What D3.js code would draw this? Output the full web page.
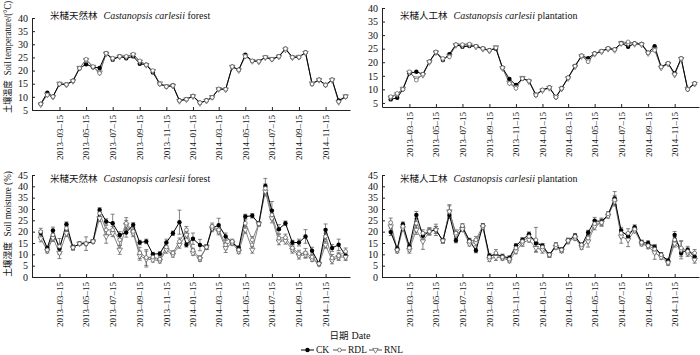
<!DOCTYPE html>
<html>
<head>
<meta charset="utf-8">
<script src="https://cdn.jsdelivr.net/npm/d3@7"></script>
<style>
  body { margin: 0; background: #fff; }
  text { font-family: "Liberation Serif", "Times New Roman", serif; fill: #111; }
</style>
</head>
<body>
<div id="chart"></div>
<script>
// sampling dates (15th and end of month)
const dates = ["2013-01-31","2013-02-15","2013-02-28","2013-03-15","2013-03-31","2013-04-15","2013-04-30","2013-05-15",
  "2013-05-31","2013-06-15","2013-06-30","2013-07-15","2013-07-31","2013-08-15","2013-08-31","2013-09-15","2013-09-30",
  "2013-10-15","2013-10-31","2013-11-15","2013-11-30","2013-12-15","2013-12-31","2014-01-15","2014-01-31","2014-02-15",
  "2014-02-28","2014-03-15","2014-03-31","2014-04-15","2014-04-30","2014-05-15","2014-05-31","2014-06-15","2014-06-30",
  "2014-07-15","2014-07-31","2014-08-15","2014-08-31","2014-09-15","2014-09-30","2014-10-15","2014-10-31","2014-11-15",
  "2014-11-30","2014-12-15","2014-12-31"];
const tickDates = ["2013-03-15","2013-05-15","2013-07-15","2013-09-15","2013-11-15","2014-01-15",
  "2014-03-15","2014-05-15","2014-07-15","2014-09-15","2014-11-15"];
const tempTicks = [5, 10, 15, 20, 25, 30, 35, 40];
const moistTicks = [0, 5, 10, 15, 20, 25, 30, 35, 40, 45];
const seriesNames = ["CK", "RDL", "RNL"];

// soil temperature, natural forest
const tempForestCK = [7.3,11.6,10.1,14.9,14.7,16.1,20.9,22.4,21.3,21.0,26.6,24.1,25.4,24.7,25.4,22.6,22.2,19.3,14.9,13.9,14.3,8.6,9.1,10.3,7.8,8.6,9.8,13.0,12.9,21.5,20.3,26.0,23.7,23.5,25.1,24.3,25.4,28.3,25.1,25.1,26.9,14.9,16.5,14.5,16.5,8.6,10.1];
const tempForestRDL = [7.3,10.7,10.1,14.9,14.7,16.1,20.9,24.3,21.5,19.0,26.6,24.7,25.4,25.4,26.2,23.7,22.2,20.0,14.9,13.9,14.3,8.6,9.1,10.3,7.8,8.6,9.8,13.0,12.9,21.5,20.3,25.4,23.7,23.5,25.1,24.3,25.4,28.3,25.1,25.1,26.9,14.9,16.5,14.5,16.5,8.2,10.1];
const tempForestRNL = [7.1,10.9,10.0,15.0,14.6,16.0,21.0,24.0,21.4,19.3,26.4,24.5,25.3,25.2,26.0,23.4,22.1,19.8,15.1,14.0,14.2,8.4,9.0,10.2,7.6,8.5,9.9,12.9,12.8,21.4,20.1,25.6,23.6,23.4,25.0,24.4,25.3,28.0,25.0,25.2,26.7,15.1,16.4,14.6,16.4,8.0,10.2];

// soil temperature, plantation
const tempPlantCK = [6.3,6.9,10.0,15.9,16.5,15.6,20.2,23.8,20.8,23.0,26.5,25.7,26.0,25.9,25.1,24.4,25.0,18.0,13.8,11.6,14.0,13.1,7.9,9.8,10.7,7.1,10.4,14.3,18.6,22.4,21.5,23.2,24.1,25.1,24.7,27.1,25.7,26.9,26.7,23.5,25.9,18.3,19.6,15.9,21.4,10.0,12.2];
const tempPlantRDL = [7.3,8.5,10.0,16.5,13.4,15.6,20.2,23.8,21.4,22.0,26.5,26.5,26.7,25.9,25.1,24.4,25.3,18.0,12.2,10.4,14.0,13.1,7.9,9.8,10.7,7.1,10.4,14.3,18.6,22.4,20.2,23.2,24.1,25.1,24.7,26.9,27.5,26.9,26.7,23.5,24.4,18.3,19.6,15.6,21.4,10.0,12.2];
const tempPlantRNL = [7.0,8.2,10.2,16.2,14.0,15.3,20.0,23.6,21.2,22.3,26.3,26.2,26.4,25.7,24.9,24.2,25.5,17.8,12.5,10.8,14.2,12.9,8.1,9.6,10.5,7.3,10.2,14.1,18.4,22.2,20.6,23.0,23.9,24.9,24.5,27.0,26.8,26.7,26.5,23.3,24.8,18.0,19.4,15.4,21.2,10.2,12.0];

// soil moisture, natural forest
const moistForestCK = [19.5,12.8,20.5,12.5,23.3,13.0,14.7,14.7,15.7,29.6,24.5,23.7,18.5,19.6,23.0,15.2,15.7,10.1,10.3,15.2,19.3,24.2,14.2,16.9,14.1,13.2,21.5,22.9,17.9,15.2,12.8,26.7,27.0,23.5,40.2,29.3,21.1,23.7,15.2,15.2,17.9,11.6,5.9,20.8,12.8,14.2,9.4];
const moistForestRDL = [20.0,12.0,18.6,13.5,21.5,13.0,14.7,14.7,15.7,28.1,20.8,20.8,16.4,23.7,20.1,10.6,8.6,8.8,7.9,13.2,10.6,15.7,20.8,11.7,8.4,13.2,22.3,20.8,14.2,15.7,12.0,23.7,16.4,23.5,39.1,27.4,17.2,17.4,12.8,10.3,10.6,8.8,5.9,17.9,8.4,9.4,11.3];
const moistForestRNL = [17.0,11.6,17.2,10.6,19.3,13.0,14.7,14.7,15.7,25.9,17.9,19.3,12.0,23.0,19.3,9.4,7.9,7.6,7.2,12.0,9.8,14.2,18.6,10.6,7.9,13.2,21.5,20.1,12.8,15.0,11.3,20.8,12.0,23.5,37.7,25.9,15.7,16.0,12.0,9.4,9.8,7.9,5.7,14.2,7.3,8.8,8.8];
const moistForestErrCK = [1.0,0.8,1.5,2.0,1.0,1.0,0.8,3.0,0.8,1.0,1.2,4.0,1.5,2.0,1.0,1.0,1.0,0.8,0.8,1.5,1.0,5.3,1.0,2.5,2.5,1.0,1.0,3.0,1.5,1.0,1.0,1.0,1.0,0.8,3.3,4.0,2.0,1.0,1.0,1.5,3.0,1.5,0.8,2.6,1.5,2.5,1.5];
const moistForestErrRDL = [1.5,1.0,2.0,3.5,1.5,1.0,0,0,0,1.5,2.0,1.5,2.5,2.5,1.5,2.5,3.5,1.0,1.0,1.5,1.0,1.5,1.5,1.0,1.0,1.0,1.5,1.5,2.0,1.0,1.0,1.5,1.5,1.0,2.0,2.0,1.5,1.5,1.5,1.5,2.0,1.0,0.8,1.5,1.5,1.5,1.5];
const moistForestErrRNL = [1.5,1.0,1.5,2.5,1.5,1.0,0,0,0,1.5,3.0,1.5,2.0,2.0,1.5,2.0,3.5,1.0,1.0,1.5,1.0,1.5,1.5,1.0,1.0,1.0,1.5,1.5,2.0,1.0,1.0,1.5,1.5,1.0,2.0,2.0,1.5,1.5,1.5,1.5,1.5,1.0,0.8,1.5,1.5,1.5,1.5];

// soil moisture, plantation
const moistPlantCK = [19.8,12.5,23.3,13.5,27.4,18.2,20.1,20.8,16.0,27.4,16.1,22.0,16.1,11.7,22.6,9.4,9.8,9.1,8.4,13.8,16.4,18.9,15.0,13.8,9.8,13.8,12.0,16.1,18.2,13.8,19.6,24.8,24.5,27.4,34.7,20.4,17.9,22.0,15.2,15.0,13.2,9.8,7.2,18.6,10.6,12.0,8.8];
const moistPlantRDL = [24.0,12.0,22.3,12.8,23.7,19.3,20.1,20.8,16.0,28.9,19.3,22.6,15.7,16.4,22.6,8.8,10.6,8.8,7.9,12.8,15.7,17.9,16.4,13.2,9.8,14.2,12.0,16.1,17.9,14.2,17.2,23.5,24.0,27.9,34.0,19.3,19.3,21.1,15.2,13.8,12.3,9.8,6.4,16.4,12.8,11.3,10.6];
const moistPlantRNL = [22.3,11.6,21.5,12.0,20.8,15.7,20.1,20.8,16.0,28.9,18.6,21.1,14.7,15.2,22.0,7.9,8.8,8.4,7.3,11.3,15.0,16.4,12.8,12.0,9.8,13.2,11.7,15.7,17.2,13.2,15.7,22.3,24.0,27.0,33.3,17.9,16.4,20.5,14.7,13.5,10.8,8.8,6.2,14.7,12.0,10.6,7.6];
const moistPlantErrCK = [1.5,1.0,1.0,1.5,1.5,1.5,1.5,2.5,1.0,1.5,1.0,1.0,1.0,1.0,1.0,1.0,1.0,1.0,1.0,1.0,1.0,1.0,1.5,1.0,1.0,1.0,1.0,1.0,1.0,1.0,1.0,1.5,1.5,1.0,3.0,1.5,1.5,1.0,1.0,1.0,1.0,1.0,1.0,1.5,1.5,1.5,1.5];
const moistPlantErrRDL = [2.0,1.0,1.0,1.5,2.0,1.5,1.5,1.5,1.0,3.0,1.5,1.0,1.0,1.5,1.0,1.0,1.5,1.0,1.0,1.0,1.5,1.0,5.5,1.5,1.0,1.0,1.0,1.0,1.0,1.0,1.5,1.5,1.5,1.0,2.0,2.0,2.0,1.0,1.0,1.0,2.0,1.0,1.0,1.5,3.0,1.5,1.5];
const moistPlantErrRNL = [2.0,1.0,1.0,1.5,2.0,3.5,1.5,1.5,1.0,2.5,1.5,1.0,1.0,1.5,1.0,1.0,1.5,1.0,1.0,1.0,1.5,1.0,1.5,1.5,1.0,1.0,1.0,1.0,1.0,1.0,2.5,1.5,1.5,1.0,2.0,3.0,3.0,1.0,1.0,1.0,3.0,1.0,1.0,1.5,4.0,1.5,1.5];

const W = 700, H = 355;
const parse = d3.timeParse("%Y-%m-%d");
const fmt = d3.timeFormat("%Y–%m–%d");
const dateVals = dates.map(parse);
const cjk = "'Noto Sans CJK SC', sans-serif";

const svg = d3.select("#chart").append("svg")
    .attr("width", W).attr("height", H);

const panels = [
  { cn: "米槠天然林", tail: "forest", left: 32, right: 350, bottom: 110, top: 18, domain: [5, 40], ticks: tempTicks,
    series: [tempForestCK, tempForestRDL, tempForestRNL], err: null, tx: 50, ty: 19 },
  { cn: "米槠人工林", tail: "plantation", left: 382, right: 699, bottom: 107, top: 8, domain: [3.5, 40], ticks: tempTicks,
    series: [tempPlantCK, tempPlantRDL, tempPlantRNL], err: null, tx: 400, ty: 19 },
  { cn: "米槠天然林", tail: "forest", left: 32, right: 350, bottom: 277, top: 175, domain: [0, 45], ticks: moistTicks,
    series: [moistForestCK, moistForestRDL, moistForestRNL],
    err: [moistForestErrCK, moistForestErrRDL, moistForestErrRNL], tx: 50, ty: 182 },
  { cn: "米槠人工林", tail: "plantation", left: 382, right: 699, bottom: 277, top: 175, domain: [0, 45], ticks: moistTicks,
    series: [moistPlantCK, moistPlantRDL, moistPlantRNL],
    err: [moistPlantErrCK, moistPlantErrRDL, moistPlantErrRNL], tx: 400, ty: 182 }
];

const lineColor = ["#000", "#777", "#777"];
const tri = d3.symbol().type(d3.symbolTriangle).size(13);

panels.forEach(function (p) {
  const x = d3.scaleTime()
      .domain([parse("2013-01-11"), parse("2015-01-10")])
      .range([p.left, p.right]);
  const y = d3.scaleLinear().domain(p.domain).range([p.bottom, p.top]);

  // axes, ticks pointing inward
  const gx = svg.append("g")
      .attr("transform", `translate(0,${p.bottom})`)
      .call(d3.axisBottom(x).tickValues(tickDates.map(parse)).tickFormat(fmt)
        .tickSize(-3).tickSizeOuter(0).tickPadding(4));
  gx.selectAll("text")
      .attr("transform", "rotate(-90)")
      .attr("x", -5).attr("y", 0).attr("dy", "0.32em")
      .attr("text-anchor", "end")
      .style("font-size", "9px");

  const gy = svg.append("g")
      .attr("transform", `translate(${p.left},0)`)
      .call(d3.axisLeft(y).tickValues(p.ticks).tickSize(-3).tickSizeOuter(0).tickPadding(4));
  gy.selectAll("text").style("font-size", "10px");
  svg.selectAll(".domain").attr("stroke", "#222");
  svg.selectAll(".tick line").attr("stroke", "#222");

  // error bars
  if (p.err) {
    p.series.forEach(function (vals, s) {
      const eg = svg.append("g").attr("stroke", "#666").attr("stroke-width", 0.8);
      vals.forEach(function (v, i) {
        const e = p.err[s][i];
        if (!e) return;
        const cx = x(dateVals[i]);
        eg.append("line").attr("x1", cx).attr("x2", cx).attr("y1", y(v - e)).attr("y2", y(v + e));
        eg.append("line").attr("x1", cx - 2).attr("x2", cx + 2).attr("y1", y(v + e)).attr("y2", y(v + e));
        eg.append("line").attr("x1", cx - 2).attr("x2", cx + 2).attr("y1", y(v - e)).attr("y2", y(v - e));
      });
    });
  }

  // lines
  const line = d3.line().x((d, i) => x(dateVals[i])).y(d => y(d));
  [2, 1, 0].forEach(function (s) {
    svg.append("path")
        .datum(p.series[s])
        .attr("fill", "none")
        .attr("stroke", lineColor[s])
        .attr("stroke-width", s === 0 ? 1 : 0.9)
        .attr("d", line);
  });

  // markers: CK first, open markers on top
  svg.append("g").selectAll("circle")
      .data(p.series[0]).join("circle")
      .attr("cx", (d, i) => x(dateVals[i])).attr("cy", d => y(d))
      .attr("r", 2.2).attr("fill", "#000");
  svg.append("g").selectAll("path")
      .data(p.series[2]).join("path")
      .attr("d", tri)
      .attr("transform", (d, i) => `translate(${x(dateVals[i])},${y(d)}) rotate(180)`)
      .attr("fill", "#fff").attr("stroke", "#555").attr("stroke-width", 0.7);
  svg.append("g").selectAll("circle")
      .data(p.series[1]).join("circle")
      .attr("cx", (d, i) => x(dateVals[i])).attr("cy", d => y(d))
      .attr("r", 1.9).attr("fill", "#fff").attr("stroke", "#555").attr("stroke-width", 0.7);

  // panel title
  const t = svg.append("text").attr("x", p.tx).attr("y", p.ty).style("font-size", "10px");
  t.append("tspan").text(p.cn).style("font-family", cjk).style("font-size", "9.5px");
  t.append("tspan").text("Castanopsis carlesii").attr("dx", 6).style("font-style", "italic");
  t.append("tspan").text(" " + p.tail);
});

// y axis titles
svg.append("text")
    .attr("transform", "translate(7,57) rotate(-90) scale(0.86,1)")
    .attr("text-anchor", "middle")
    .attr("dy", "0.38em")
    .style("font-size", "10px")
    .call(t => {
      t.append("tspan").text("土壤温度").style("font-family", cjk).style("font-size", "9.5px");
      t.append("tspan").attr("dx", 6).text("Soil temperature/(°C)");
    });
svg.append("text")
    .attr("transform", "translate(7,224) rotate(-90) scale(0.92,1)")
    .attr("text-anchor", "middle")
    .attr("dy", "0.38em")
    .style("font-size", "10px")
    .call(t => {
      t.append("tspan").text("土壤湿度").style("font-family", cjk).style("font-size", "9.5px");
      t.append("tspan").attr("dx", 6).text("Soil moisture (%)");
    });

// x axis title
svg.append("text")
    .attr("x", 350).attr("y", 339)
    .attr("text-anchor", "middle")
    .style("font-size", "10px")
    .call(t => {
      t.append("tspan").text("日期").style("font-family", cjk).style("font-size", "9.5px");
      t.append("tspan").attr("dx", 3).text("Date");
    });

// legend
const legend = svg.append("g").attr("transform", "translate(301,350)");
const legX = [0, 32, 68];
seriesNames.forEach(function (name, s) {
  const g = legend.append("g").attr("transform", `translate(${legX[s]},0)`);
  g.append("line").attr("x1", 0).attr("x2", 13).attr("y1", 0).attr("y2", 0)
      .attr("stroke", s === 0 ? "#000" : "#555").attr("stroke-width", 1);
  if (s === 0) g.append("circle").attr("cx", 6.5).attr("r", 2.2).attr("fill", "#000");
  if (s === 1) g.append("circle").attr("cx", 6.5).attr("r", 1.9).attr("fill", "#fff").attr("stroke", "#555").attr("stroke-width", 0.7);
  if (s === 2) g.append("path").attr("d", tri).attr("transform", "translate(6.5,0) rotate(180)")
      .attr("fill", "#fff").attr("stroke", "#555").attr("stroke-width", 0.7);
  g.append("text").attr("x", 15).attr("dy", "0.35em").style("font-size", "9.5px").text(name);
});
</script>
</body>
</html>
